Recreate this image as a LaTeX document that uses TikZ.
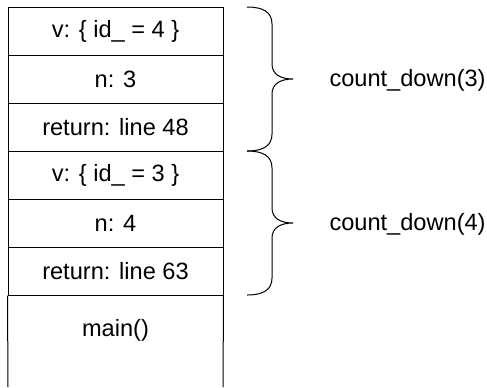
\documentclass[tikz,border=0pt]{standalone}
\usepackage{fontspec}
\setmainfont{Liberation Sans}

\begin{document}
\begin{tikzpicture}[x=0.5pt, y=-0.5pt, line width=0.5pt,
		every node/.style={font=\fontsize{11.8}{14}\selectfont},
		frame/.style={rectangle, draw, minimum width=107.5pt, minimum height=24pt, inner sep=0pt}]
			\useasboundingbox (0, 0) rectangle (487, 387);
			\draw (115.5, 31) node [frame] (f1) {v: \{ id\_ = 4 \}};
			\draw (115.5, 79) node [frame] (f2) {n: 3};
			\draw (115.5, 127) node [frame] (f3) {return: line 48};
			\draw (115.5, 175) node [frame] (f4) {v: \{ id\_ = 3 \}};
			\draw (115.5, 223) node [frame] (f5) {n: 4};
			\draw (115.5, 271) node [frame] (f6) {return: line 63};
			\draw (f6.south west) -- (8, 387);
			\draw (f6.south east) -- (223, 387);
			\draw (115.5, 330) node (main) {main()};
			\draw (247, 7) .. controls (263, 7) and (272, 12) .. (272, 24) -- (272, 64)
				.. controls (272, 74) and (280, 79) .. (293, 79)
				.. controls (280, 79) and (272, 84) .. (272, 94) -- (272, 134)
				.. controls (272, 146) and (263, 151) .. (247, 151);
			\draw (247, 151) .. controls (263, 151) and (272, 156) .. (272, 168) -- (272, 208)
				.. controls (272, 218) and (280, 223) .. (293, 223)
				.. controls (280, 223) and (272, 228) .. (272, 238) -- (272, 278)
				.. controls (272, 290) and (263, 295) .. (247, 295);
			\draw (329, 80) node [anchor=west, inner sep=0pt] (cd3) {count\_down(3)};
			\draw (329, 224) node [anchor=west, inner sep=0pt] (cd4) {count\_down(4)};
		\end{tikzpicture}
\end{document}
